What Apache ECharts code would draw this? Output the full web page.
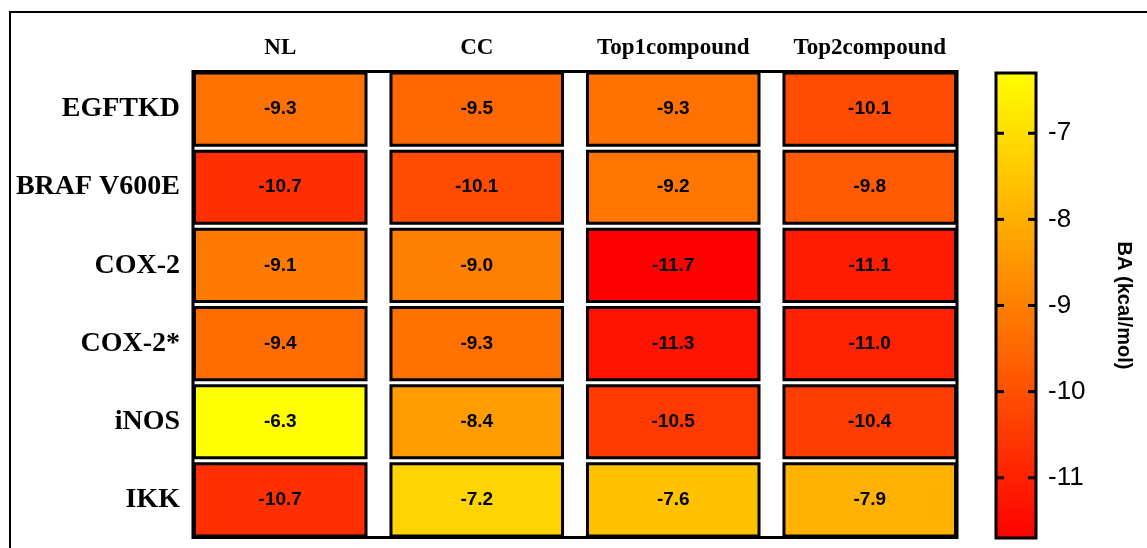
<!DOCTYPE html>
<html>
<head>
<meta charset="utf-8">
<script src="https://cdn.jsdelivr.net/npm/echarts@6/dist/echarts.min.js"></script>
<style>
  html, body { margin: 0; padding: 0; background: #fff; }
  #chart { width: 1147px; height: 548px; }
</style>
</head>
<body>
<div id="chart"></div>
<script>
// targets (rows) and ligands (columns)
const targets = ['EGFTKD', 'BRAF V600E', 'COX-2', 'COX-2*', 'iNOS', 'IKK'];
const ligands = ['NL', 'CC', 'Top1compound', 'Top2compound'];

// binding affinity per ligand, in target order (kcal/mol)
const nlValues = [-9.3, -10.7, -9.1, -9.4, -6.3, -10.7];
const ccValues = [-9.5, -10.1, -9.0, -9.3, -8.4, -7.2];
const top1Values = [-9.3, -9.2, -11.7, -11.3, -10.5, -7.6];
const top2Values = [-10.1, -9.8, -11.1, -11.0, -10.4, -7.9];

// colour bar
const barMin = -11.7;
const barMax = -6.3;
const barTicks = [-11, -10, -9, -8, -7];

const columns = [nlValues, ccValues, top1Values, top2Values];
const cells = [];
columns.forEach((vals, ci) => {
  vals.forEach((v, ri) => cells.push([ci, ri, v]));
});

const CELL_W = 0.873;   // share of a column band taken by a cell
const ROW_GAP = 6;      // px between row cells (stroke included)
const TICK_LEN = 8;

const chart = echarts.init(document.getElementById('chart'));

const option = {
  animation: false,
  backgroundColor: '#fff',
  grid: [
    { left: 182, top: 70, width: 786, height: 469 },
    {
      left: 996, top: 73, width: 40, height: 465,
      show: true,
      backgroundColor: new echarts.graphic.LinearGradient(0, 0, 0, 1, [
        { offset: 0, color: '#ffff00' },
        { offset: 1, color: '#ff0000' },
      ]),
      borderColor: '#000',
      borderWidth: 3,
    },
  ],
  xAxis: [
    {
      type: 'category',
      data: ligands,
      position: 'top',
      gridIndex: 0,
      axisLine: { show: false },
      axisTick: { show: false },
      splitLine: { show: false },
      axisLabel: {
        interval: 0,
        hideOverlap: false,
        color: '#000',
        fontFamily: 'Liberation Serif',
        fontWeight: 'bold',
        fontSize: 23,
        margin: 10,
      },
    },
    { type: 'value', gridIndex: 1, min: 0, max: 1, show: false },
  ],
  yAxis: [
    {
      type: 'category',
      data: targets,
      inverse: true,
      gridIndex: 0,
      axisLine: { show: false },
      axisTick: { show: false },
      splitLine: { show: false },
      axisLabel: {
        interval: 0,
        color: '#000',
        fontFamily: 'Liberation Serif',
        fontWeight: 'bold',
        fontSize: 28,
        margin: 2,
      },
    },
    {
      type: 'value',
      gridIndex: 1,
      position: 'right',
      min: barMin,
      max: barMax,
      axisLine: { show: false },
      splitLine: { show: false },
      axisTick: { show: false },
      axisLabel: {
        customValues: barTicks,
        color: '#000',
        fontFamily: 'Liberation Sans',
        fontSize: 26,
        margin: 12,
      },
      name: 'BA (kcal/mol)',
      nameLocation: 'middle',
      nameRotate: -90,
      nameGap: 78,
      nameTextStyle: {
        color: '#000',
        fontFamily: 'Liberation Sans',
        fontWeight: 'bold',
        fontSize: 20,
      },
    },
  ],
  visualMap: {
    show: false,
    type: 'continuous',
    min: barMin,
    max: barMax,
    dimension: 2,
    seriesIndex: 0,
    inRange: { color: ['#ff0000', '#ffff00'] },
  },
  series: [
    {
      type: 'custom',
      xAxisIndex: 0,
      yAxisIndex: 0,
      data: cells,
      renderItem(params, api) {
        const c = api.coord([api.value(0), api.value(1)]);
        const s = api.size([1, 1]);
        const w = s[0] * CELL_W;
        const h = s[1] - ROW_GAP;
        return {
          type: 'rect',
          shape: { x: c[0] - w / 2, y: c[1] - h / 2, width: w, height: h },
          style: { fill: api.visual('color'), stroke: '#000', lineWidth: 3 },
          textContent: {
            style: {
              text: api.value(2).toFixed(1),
              fill: '#000',
              fontFamily: 'Liberation Sans',
              fontWeight: 'bold',
              fontSize: 19,
            },
          },
          textConfig: { position: 'inside' },
        };
      },
    },
    {
      // colour bar ticks, inward on both edges
      type: 'custom',
      xAxisIndex: 1,
      yAxisIndex: 1,
      z: 5,
      data: barTicks.map((v) => [0, v]),
      renderItem(params, api) {
        const y = api.coord([0, api.value(1)])[1];
        const cs = params.coordSys;
        const st = { stroke: '#000', lineWidth: 3 };
        return {
          type: 'group',
          children: [
            { type: 'line', shape: { x1: cs.x, y1: y, x2: cs.x + TICK_LEN, y2: y }, style: st },
            { type: 'line', shape: { x1: cs.x + cs.width - TICK_LEN, y1: y, x2: cs.x + cs.width, y2: y }, style: st },
          ],
        };
      },
    },
  ],
};

chart.setOption(option);

// outer box around the cell block, taken from the category scales
const p0 = chart.convertToPixel({ gridIndex: 0 }, [0, 0]);
const p1 = chart.convertToPixel({ gridIndex: 0 }, [ligands.length - 1, targets.length - 1]);
const bw = (p1[0] - p0[0]) / (ligands.length - 1);
const bh = (p1[1] - p0[1]) / (targets.length - 1);
const halfW = bw * CELL_W / 2 + 1.5;
const halfH = (bh - ROW_GAP) / 2 + 1.5;

chart.setOption({
  graphic: [
    {
      type: 'rect',
      shape: { x: 10, y: 12, width: 1400, height: 800 },
      style: { fill: null, stroke: '#000', lineWidth: 2 },
    },
    {
      type: 'rect',
      z: 10,
      shape: {
        x: p0[0] - halfW,
        y: p0[1] - halfH,
        width: p1[0] - p0[0] + 2 * halfW,
        height: p1[1] - p0[1] + 2 * halfH,
      },
      style: { fill: null, stroke: '#000', lineWidth: 3 },
    },
  ],
});
</script>
</body>
</html>
